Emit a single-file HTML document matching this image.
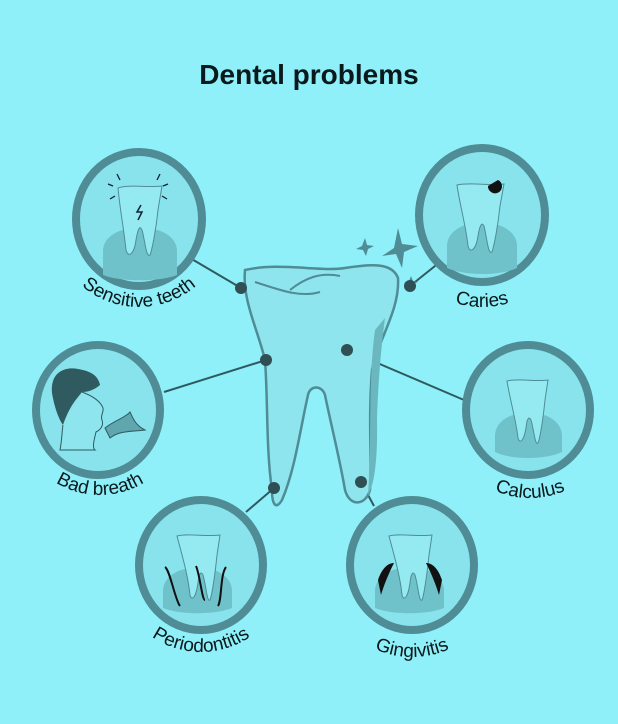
<!DOCTYPE html>
<html><head><meta charset="utf-8"><style>
html,body{margin:0;padding:0;background:#8ff0f9;}
svg{display:block}
text{font-family:"Liberation Sans",sans-serif;}
</style></head><body>
<svg width="618" height="724" viewBox="0 0 618 724" xmlns="http://www.w3.org/2000/svg">
<rect width="618" height="724" fill="#8ff0f9"/>
<text x="309" y="84" text-anchor="middle" font-size="28" font-weight="bold" fill="#0a1a1c">Dental problems</text>
<defs>
<path id="a1" d="M51,219 A88,88 0 0 0 227,219"/>
<path id="a2" d="M390,215 A92,92 0 0 0 574,215"/>
<path id="a3" d="M15,410 A85,85 0 0 0 185,410"/>
<path id="a4" d="M442,410 A88,88 0 0 0 618,410"/>
<path id="a5" d="M114,565 A87,87 0 0 0 288,565"/>
<path id="a6" d="M320,565 A92,92 0 0 0 504,565"/>
</defs>
<g stroke="#2f5a60" stroke-width="2">
<line x1="241" y1="288" x2="190" y2="258"/>
<line x1="410" y1="286" x2="440" y2="262"/>
<line x1="266" y1="360" x2="164" y2="392"/>
<line x1="347" y1="350" x2="464" y2="400"/>
<line x1="274" y1="488" x2="246" y2="512"/>
<line x1="361" y1="482" x2="374" y2="506"/>
</g>
<path d="M245,270 C280,262 320,272 345,268 C370,264 392,262 398,278 C400,310 378,340 372,370 C368,420 372,460 370,490 C366,505 350,508 345,490 C340,460 330,420 325,395 C322,385 310,385 308,395 C300,430 295,470 282,500 C276,510 272,505 272,490 C266,450 268,400 265,360 C258,330 242,300 245,270 Z" fill="#8ee5ee" stroke="#4f8c95" stroke-width="2.5"/>
<path d="M375,330 C368,380 372,440 368,495 C372,490 378,470 377,420 C378,380 382,340 385,318 Z" fill="#6ab7bf"/>
<path d="M255,282 C280,290 300,298 320,292 M290,290 C305,278 320,272 340,276" stroke="#4f8c95" stroke-width="2" fill="none"/>
<g fill="#4f8c95">
<polygon points="398,228 402,244 418,246 404,252 402,268 396,254 382,256 394,248"/>
<polygon points="365,238 367,245 374,246 368,249 366,256 363,250 356,249 362,246"/>
<polygon points="411,276 413,281 418,282 413,284 411,289 409,284 404,283 409,281"/>
</g>
<g fill="#2f4f54">
<circle cx="241" cy="288" r="6"/><circle cx="410" cy="286" r="6"/>
<circle cx="266" cy="360" r="6"/><circle cx="347" cy="350" r="6"/>
<circle cx="274" cy="488" r="6"/><circle cx="361" cy="482" r="6"/>
</g>
<g fill="#88e3ec" stroke="#4f8c95" stroke-width="8">
<ellipse cx="139" cy="219" rx="63" ry="67"/>
<ellipse cx="482" cy="215" rx="63" ry="67"/>
<ellipse cx="98" cy="410" rx="62" ry="65"/>
<ellipse cx="528" cy="410" rx="62" ry="65"/>
<ellipse cx="201" cy="565" rx="62" ry="65"/>
<ellipse cx="412" cy="565" rx="62" ry="65"/>
</g>
<g fill="#70c2ca">
<path d="M103,250 C105,220 175,220 177,250 L177,275 C160,282 120,282 103,275 Z"/>
<path d="M447,245 C449,215 515,215 517,245 L517,268 C500,276 465,276 447,268 Z"/>
<path d="M495,435 C497,405 560,405 562,435 L562,452 C545,460 512,460 495,452 Z"/>
<path d="M163,590 C165,560 230,560 232,590 L232,608 C215,615 180,615 163,608 Z"/>
<path d="M375,590 C377,560 442,560 444,590 L444,608 C427,615 392,615 375,608 Z"/>
</g>
<g fill="#95eaf2" stroke="#4f8c95" stroke-width="1">
<path d="M118,188 C130,184 148,188 162,186 L158,210 C156,230 152,250 150,255 C146,258 145,240 142,230 C140,225 138,228 136,240 C134,255 128,258 126,250 C124,230 120,210 118,188 Z"/>
<path d="M457,185 C470,182 490,186 504,184 L500,206 C498,226 494,246 492,252 C488,255 487,238 484,226 C482,222 480,224 478,236 C476,250 470,254 468,246 C466,226 460,206 457,185 Z"/>
<path d="M507,381 C518,378 536,382 548,380 L545,400 C543,420 540,438 538,443 C535,446 534,430 531,420 C529,416 527,418 526,428 C524,440 520,445 518,438 C516,420 510,400 507,381 Z"/>
<path d="M177,536 C188,533 206,537 220,535 L217,555 C215,575 212,595 210,600 C207,603 206,585 203,575 C201,571 199,573 198,583 C196,597 192,602 190,595 C188,575 182,555 177,536 Z"/>
<path d="M389,536 C400,533 418,537 432,535 L429,555 C427,575 424,595 422,600 C419,603 418,585 415,575 C413,571 411,573 410,583 C408,597 404,602 402,595 C400,575 394,555 389,536 Z"/>
</g>
<path d="M488,186 a7,7 0 1 0 10,-6 z" fill="#111"/>
<path d="M141,205 l-4,7 5,0 -4,8" stroke="#123" stroke-width="1.5" fill="none"/>
<g stroke="#123" stroke-width="1.3"><line x1="113" y1="186" x2="108" y2="184"/><line x1="120" y1="180" x2="117" y2="174"/><line x1="163" y1="186" x2="168" y2="184"/><line x1="157" y1="180" x2="160" y2="174"/><line x1="115" y1="196" x2="110" y2="199"/><line x1="162" y1="196" x2="167" y2="199"/></g>
<path d="M165,567 C170,570 175,600 180,606 M196,566 C200,575 202,600 205,600 M226,567 C220,575 222,600 218,606" stroke="#111" stroke-width="2" fill="none"/>
<path d="M378,580 C382,568 388,563 394,563 C388,575 384,585 381,595 Z M442,580 C438,568 432,563 426,563 C432,575 436,585 439,595 Z" fill="#111"/>
<path d="M52,393 C50,375 62,366 78,369 C90,371 98,375 100,385 C94,390 88,392 82,392 C76,400 70,405 63,425 C58,418 54,405 52,393 Z" fill="#2f5a60"/>
<path d="M82,392 C90,395 100,400 103,408 C104,412 100,416 102,420 C104,426 100,430 96,432 C94,440 92,448 95,450 L60,450 C62,440 62,430 63,425" fill="#8ee5ee" stroke="#2f5a60" stroke-width="1"/>
<path d="M105,428 C115,420 125,418 130,412 C133,418 135,425 145,430 C132,432 120,430 110,438 Z" fill="#5fa6ae" stroke="#2f5a60" stroke-width="1"/>
<g font-size="19" fill="#0a1a1c">
<text><textPath href="#a1" startOffset="50%" text-anchor="middle">Sensitive teeth</textPath></text>
<text><textPath href="#a2" startOffset="50%" text-anchor="middle">Caries</textPath></text>
<text><textPath href="#a3" startOffset="50%" text-anchor="middle">Bad breath</textPath></text>
<text><textPath href="#a4" startOffset="50%" text-anchor="middle">Calculus</textPath></text>
<text><textPath href="#a5" startOffset="50%" text-anchor="middle">Periodontitis</textPath></text>
<text><textPath href="#a6" startOffset="50%" text-anchor="middle">Gingivitis</textPath></text>
</g>
</svg>
</body></html>
